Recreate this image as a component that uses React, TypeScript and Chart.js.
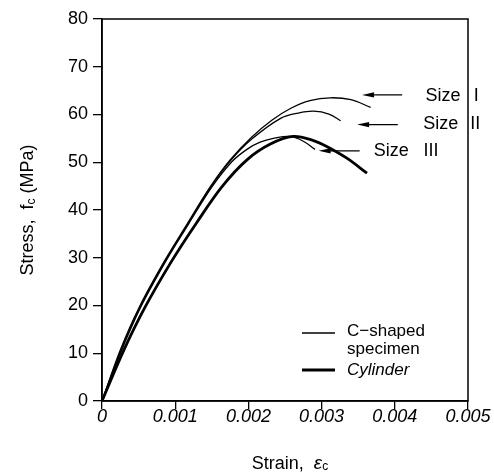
import React, { useEffect, useRef } from "react";
import { Chart, registerables } from "chart.js";

Chart.register(...registerables);

// ---------- data ----------
const STRAIN_TICK_LABELS = ["0", "0.001", "0.002", "0.003", "0.004", "0.005"];
const STRESS_TICK_LABELS = ["0", "10", "20", "30", "40", "50", "60", "70", "80"];

const sizeIStrain = [0, 0.00025, 0.00051, 0.00086, 0.00116, 0.00148, 0.00175, 0.00204, 0.00232, 0.00258, 0.00284, 0.00312, 0.0034, 0.00367];
const sizeIStress = [0, 10.7, 19.7, 29.5, 37.0, 44.9, 50.5, 55.2, 58.8, 61.3, 62.9, 63.5, 63.1, 61.5];

const sizeIIStrain = [0, 0.00026, 0.00052, 0.00087, 0.00117, 0.00149, 0.00176, 0.00205, 0.00244, 0.00268, 0.00289, 0.0031, 0.00326];
const sizeIIStress = [0, 10.7, 19.7, 29.5, 37.0, 44.9, 50.4, 54.9, 59.2, 60.3, 60.7, 60.1, 58.7];

const sizeIIIStrain = [0, 0.00027, 0.00053, 0.00088, 0.00118, 0.0015, 0.00178, 0.00198, 0.00216, 0.00237, 0.00257, 0.00275, 0.00291];
const sizeIIIStress = [0, 10.7, 19.7, 29.5, 37.0, 44.8, 50.2, 52.7, 54.2, 55.1, 55.4, 54.4, 52.7];

const cylinderStrain = [0, 0.0003, 0.00059, 0.00096, 0.0013, 0.00164, 0.00198, 0.0023, 0.00261, 0.00288, 0.00307, 0.00335, 0.00362];
const cylinderStress = [0, 10.7, 19.7, 29.5, 37.5, 44.9, 50.5, 53.8, 55.4, 54.6, 53.3, 50.8, 47.7];

// size labels: word, numeral
const SIZE_WORDS = ["Size", "Size", "Size"];
const SIZE_NUMERALS = ["I", "II", "III"];
// arrow anchors in data units: tip strain, tail strain, stress; label strain, numeral strain
const ARROW_TIP = [0.003553, 0.003485, 0.002959];
const ARROW_TAIL = [0.004101, 0.004041, 0.00352];
const ARROW_STRESS = [64.1, 57.9, 52.4];
const LABEL_STRAIN = [0.00442, 0.00439, 0.003712];
const NUMERAL_STRAIN = [0.00508, 0.00503, 0.004393];
const LABEL_STRESS = [63.8, 57.9, 52.4];

const LEGEND_LINES = [["C\u2212shaped", "specimen"], ["Cylinder"]];

const FONT = "'Liberation Sans', Arial, sans-serif";

function pts(xs: number[], ys: number[]) {
  return xs.map((x, i) => ({ x, y: ys[i] }));
}

function drawRich(ctx: CanvasRenderingContext2D, parts: { t: string; f: string; dy: number }[], cx: number, cy: number) {
  let total = 0;
  const widths = parts.map((p) => {
    ctx.font = p.f;
    const w = ctx.measureText(p.t).width;
    total += w;
    return w;
  });
  let x = cx - total / 2;
  parts.forEach((p, i) => {
    ctx.font = p.f;
    ctx.fillText(p.t, x, cy + p.dy);
    x += widths[i];
  });
}

const overlay = {
  id: "overlay",
  afterDraw(chart: any) {
    const { ctx, chartArea: ca, scales } = chart;
    const xs = scales.x;
    const ys = scales.y;
    ctx.save();
    ctx.strokeStyle = "#000";
    ctx.fillStyle = "#000";
    // frame
    ctx.lineWidth = 1.5;
    ctx.strokeRect(ca.left, ca.top, ca.right - ca.left, ca.bottom - ca.top);

    // arrows and size labels
    ctx.textBaseline = "middle";
    ctx.textAlign = "left";
    for (let i = 0; i < SIZE_WORDS.length; i++) {
      const tipX = xs.getPixelForValue(ARROW_TIP[i]);
      const tailX = xs.getPixelForValue(ARROW_TAIL[i]);
      const ay = ys.getPixelForValue(ARROW_STRESS[i]);
      ctx.lineWidth = 1.3;
      ctx.beginPath();
      ctx.moveTo(tailX, ay);
      ctx.lineTo(tipX + 8, ay);
      ctx.stroke();
      ctx.beginPath();
      ctx.moveTo(tipX, ay);
      ctx.lineTo(tipX + 12, ay - 2.6);
      ctx.lineTo(tipX + 12, ay + 2.6);
      ctx.closePath();
      ctx.fill();
      const ly = ys.getPixelForValue(LABEL_STRESS[i]);
      ctx.font = `18px ${FONT}`;
      ctx.fillText(SIZE_WORDS[i], xs.getPixelForValue(LABEL_STRAIN[i]), ly);
      ctx.fillText(SIZE_NUMERALS[i], xs.getPixelForValue(NUMERAL_STRAIN[i]), ly);
    }

    // legend
    const lx0 = ca.left + 200;
    const lx1 = ca.left + 233;
    const tx = ca.left + 245;
    const l1y = ca.top + 314;
    const l2y = ca.top + 351;
    ctx.lineWidth = 1.4;
    ctx.beginPath();
    ctx.moveTo(lx0, l1y);
    ctx.lineTo(lx1, l1y);
    ctx.stroke();
    ctx.lineWidth = 2.8;
    ctx.beginPath();
    ctx.moveTo(lx0, l2y);
    ctx.lineTo(lx1, l2y);
    ctx.stroke();
    ctx.font = `17px ${FONT}`;
    ctx.fillText(LEGEND_LINES[0][0], tx, l1y - 2);
    ctx.fillText(LEGEND_LINES[0][1], tx, l1y + 16);
    ctx.font = `italic 17px ${FONT}`;
    ctx.fillText(LEGEND_LINES[1][0], tx, l2y);

    // axis titles
    ctx.textAlign = "left";
    ctx.textBaseline = "middle";
    drawRich(
      ctx,
      [
        { t: "Strain,  ", f: `18px ${FONT}`, dy: 0 },
        { t: "\u03b5", f: `italic 19px ${FONT}`, dy: 0 },
        { t: "c", f: `12px ${FONT}`, dy: 3 },
      ],
      (ca.left + ca.right) / 2 + 5,
      464
    );
    ctx.save();
    ctx.translate(28, (ca.top + ca.bottom) / 2);
    ctx.rotate(-Math.PI / 2);
    drawRich(
      ctx,
      [
        { t: "Stress,  f", f: `18px ${FONT}`, dy: 0 },
        { t: "c", f: `12px ${FONT}`, dy: 4 },
        { t: " (MPa)", f: `18px ${FONT}`, dy: 0 },
      ],
      0,
      0
    );
    ctx.restore();
    ctx.restore();
  },
};

export default function App() {
  const ref = useRef<HTMLCanvasElement | null>(null);
  useEffect(() => {
    if (!ref.current) return;
    const thin = { borderColor: "#000", borderWidth: 1.3, pointRadius: 0, showLine: true, fill: false, tension: 0.35 };
    const chart = new Chart(ref.current, {
      type: "scatter",
      data: {
        datasets: [
          { label: "Size I", data: pts(sizeIStrain, sizeIStress), ...thin },
          { label: "Size II", data: pts(sizeIIStrain, sizeIIStress), ...thin },
          { label: "Size III", data: pts(sizeIIIStrain, sizeIIIStress), ...thin },
          { label: "Cylinder", data: pts(cylinderStrain, cylinderStress), ...thin, borderWidth: 2.8 },
        ],
      },
      options: {
        animation: false,
        responsive: true,
        maintainAspectRatio: false,
        events: [],
        layout: { padding: { top: 19, right: 26, bottom: 0, left: 0 } },
        plugins: { legend: { display: false }, tooltip: { enabled: false } },
        scales: {
          x: {
            type: "linear",
            min: 0,
            max: 0.005,
            afterFit: (s: any) => {
              s.height = 75;
            },
            afterBuildTicks: (s: any) => {
              s.ticks = STRAIN_TICK_LABELS.map((l) => ({ value: parseFloat(l) }));
            },
            grid: { display: true, drawOnChartArea: false, drawTicks: true, tickLength: 8, color: "#000", lineWidth: 1.3 },
            border: { display: true, color: "#000", width: 1.5 },
            ticks: {
              color: "#000",
              padding: -3,
              maxRotation: 0,
              font: { family: FONT, size: 18, style: "italic" },
              callback: (_v: any, i: number) => STRAIN_TICK_LABELS[i],
            },
          },
          y: {
            type: "linear",
            min: 0,
            max: 80,
            afterFit: (s: any) => {
              s.width = 102;
            },
            afterBuildTicks: (s: any) => {
              s.ticks = STRESS_TICK_LABELS.map((l) => ({ value: parseFloat(l) }));
            },
            grid: { display: true, drawOnChartArea: false, drawTicks: true, tickLength: 9, color: "#000", lineWidth: 1.3 },
            border: { display: true, color: "#000", width: 1.5 },
            ticks: {
              color: "#000",
              padding: 5,
              font: { family: FONT, size: 18 },
              callback: (_v: any, i: number) => STRESS_TICK_LABELS[i],
            },
          },
        },
      },
      plugins: [overlay],
    });
    return () => chart.destroy();
  }, []);
  return (
    <div style={{ position: "absolute", left: 0, top: 0, width: 494, height: 476, background: "#fff" }}>
      <canvas ref={ref} />
    </div>
  );
}
